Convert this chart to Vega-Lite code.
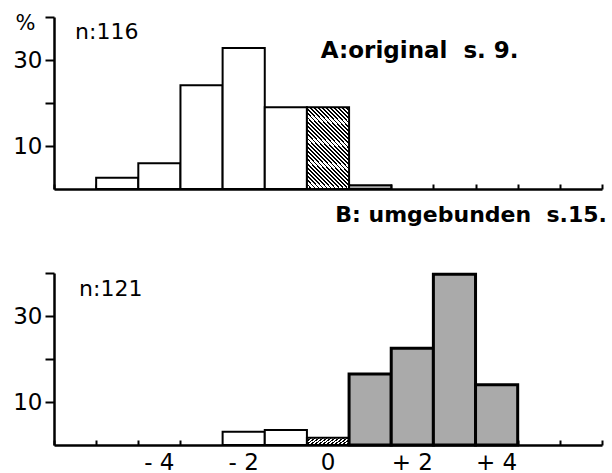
{
  "$schema": "https://vega.github.io/schema/vega-lite/v6.json",
  "padding": {"left": 12, "top": 12, "right": 0, "bottom": 0},
  "background": "white",
  "bounds": "flush",
  "spacing": 84,
  "config": {
    "view": {"stroke": null},
    "font": "DejaVu Sans",
    "axis": {"domainColor": "black", "domainWidth": 2.5, "tickColor": "black", "tickWidth": 2, "labelColor": "black", "labelFont": "DejaVu Sans", "labelFontSize": 23, "grid": false, "titleColor": "black"}
  },
  "datasets": {
    "bars": [
      {"panel": "A", "k": -5, "pct": 2.6},
      {"panel": "A", "k": -4, "pct": 6.0},
      {"panel": "A", "k": -3, "pct": 24.1},
      {"panel": "A", "k": -2, "pct": 32.8},
      {"panel": "A", "k": -1, "pct": 19.0},
      {"panel": "A", "k": 0, "pct": 19.0},
      {"panel": "A", "k": 1, "pct": 0.9},
      {"panel": "B", "k": -2, "pct": 3.1},
      {"panel": "B", "k": -1, "pct": 3.5},
      {"panel": "B", "k": 0, "pct": 1.7},
      {"panel": "B", "k": 1, "pct": 16.5},
      {"panel": "B", "k": 2, "pct": 22.5},
      {"panel": "B", "k": 3, "pct": 39.7},
      {"panel": "B", "k": 4, "pct": 14.0}
    ]
  },
  "vconcat": [
    {
      "width": 548,
      "height": 172,
      "resolve": {"axis": {"x": "independent"}},
      "layer": [
        {"data": {"name": "bars"}, "transform": [{"filter": "datum.panel==='A' && datum.k<0"}], "mark": {"type": "bar", "fill": "white", "stroke": "black", "strokeWidth": 2},
         "encoding": {
          "x": {"field": "k", "type": "ordinal", "scale": {"domain": [-6, -5, -4, -3, -2, -1, 0, 1, 2, 3, 4, 5, 6], "paddingInner": 0, "paddingOuter": 0}, "axis": {"orient": "top", "offset": -172, "title": null, "labels": false, "tickBand": "extent", "tickSize": 5}},
          "y": {"field": "pct", "type": "quantitative", "scale": {"domain": [0, 40], "nice": false}, "axis": {"title": "%", "values": [10, 20, 30, 40], "tickSize": 9, "labelPadding": 3, "labelExpr": "datum.value==10||datum.value==30?datum.label:''", "titleAngle": 0, "titleX": -29, "titleY": 6, "titleAlign": "center", "titleBaseline": "middle", "titleFontSize": 21, "titleFontWeight": "normal", "titleFont": "DejaVu Sans"}}
         }},
        {"data": {"name": "bars"}, "transform": [{"filter": "datum.panel==='A' && datum.k==0"}], "mark": {"type": "bar", "stroke": "black", "strokeWidth": 2, "fill": {"gradient": "linear", "x1": 0, "y1": 1, "x2": 0.641, "y2": -0.193, "stops": [
          {"offset": 0, "color": "#000"}, {"offset": 0.015, "color": "#000"}, {"offset": 0.015, "color": "#fff"}, {"offset": 0.0333, "color": "#fff"},
          {"offset": 0.0333, "color": "#000"}, {"offset": 0.0483, "color": "#000"}, {"offset": 0.0483, "color": "#fff"}, {"offset": 0.0667, "color": "#fff"},
          {"offset": 0.0667, "color": "#000"}, {"offset": 0.0817, "color": "#000"}, {"offset": 0.0817, "color": "#fff"}, {"offset": 0.1, "color": "#fff"},
          {"offset": 0.1, "color": "#000"}, {"offset": 0.115, "color": "#000"}, {"offset": 0.115, "color": "#fff"}, {"offset": 0.1333, "color": "#fff"},
          {"offset": 0.1333, "color": "#000"}, {"offset": 0.1483, "color": "#000"}, {"offset": 0.1483, "color": "#fff"}, {"offset": 0.1667, "color": "#fff"},
          {"offset": 0.1667, "color": "#000"}, {"offset": 0.1817, "color": "#000"}, {"offset": 0.1817, "color": "#fff"}, {"offset": 0.2, "color": "#fff"},
          {"offset": 0.2, "color": "#000"}, {"offset": 0.215, "color": "#000"}, {"offset": 0.215, "color": "#fff"}, {"offset": 0.2333, "color": "#fff"},
          {"offset": 0.2333, "color": "#000"}, {"offset": 0.2483, "color": "#000"}, {"offset": 0.2483, "color": "#fff"}, {"offset": 0.2667, "color": "#fff"},
          {"offset": 0.2667, "color": "#000"}, {"offset": 0.2817, "color": "#000"}, {"offset": 0.2817, "color": "#fff"}, {"offset": 0.3, "color": "#fff"},
          {"offset": 0.3, "color": "#000"}, {"offset": 0.315, "color": "#000"}, {"offset": 0.315, "color": "#fff"}, {"offset": 0.3333, "color": "#fff"},
          {"offset": 0.3333, "color": "#000"}, {"offset": 0.3483, "color": "#000"}, {"offset": 0.3483, "color": "#fff"}, {"offset": 0.3667, "color": "#fff"},
          {"offset": 0.3667, "color": "#000"}, {"offset": 0.3817, "color": "#000"}, {"offset": 0.3817, "color": "#fff"}, {"offset": 0.4, "color": "#fff"},
          {"offset": 0.4, "color": "#000"}, {"offset": 0.415, "color": "#000"}, {"offset": 0.415, "color": "#fff"}, {"offset": 0.4333, "color": "#fff"},
          {"offset": 0.4333, "color": "#000"}, {"offset": 0.4483, "color": "#000"}, {"offset": 0.4483, "color": "#fff"}, {"offset": 0.4667, "color": "#fff"},
          {"offset": 0.4667, "color": "#000"}, {"offset": 0.4817, "color": "#000"}, {"offset": 0.4817, "color": "#fff"}, {"offset": 0.5, "color": "#fff"},
          {"offset": 0.5, "color": "#000"}, {"offset": 0.515, "color": "#000"}, {"offset": 0.515, "color": "#fff"}, {"offset": 0.5333, "color": "#fff"},
          {"offset": 0.5333, "color": "#000"}, {"offset": 0.5483, "color": "#000"}, {"offset": 0.5483, "color": "#fff"}, {"offset": 0.5667, "color": "#fff"},
          {"offset": 0.5667, "color": "#000"}, {"offset": 0.5817, "color": "#000"}, {"offset": 0.5817, "color": "#fff"}, {"offset": 0.6, "color": "#fff"},
          {"offset": 0.6, "color": "#000"}, {"offset": 0.615, "color": "#000"}, {"offset": 0.615, "color": "#fff"}, {"offset": 0.6333, "color": "#fff"},
          {"offset": 0.6333, "color": "#000"}, {"offset": 0.6483, "color": "#000"}, {"offset": 0.6483, "color": "#fff"}, {"offset": 0.6667, "color": "#fff"},
          {"offset": 0.6667, "color": "#000"}, {"offset": 0.6817, "color": "#000"}, {"offset": 0.6817, "color": "#fff"}, {"offset": 0.7, "color": "#fff"},
          {"offset": 0.7, "color": "#000"}, {"offset": 0.715, "color": "#000"}, {"offset": 0.715, "color": "#fff"}, {"offset": 0.7333, "color": "#fff"},
          {"offset": 0.7333, "color": "#000"}, {"offset": 0.7483, "color": "#000"}, {"offset": 0.7483, "color": "#fff"}, {"offset": 0.7667, "color": "#fff"},
          {"offset": 0.7667, "color": "#000"}, {"offset": 0.7817, "color": "#000"}, {"offset": 0.7817, "color": "#fff"}, {"offset": 0.8, "color": "#fff"},
          {"offset": 0.8, "color": "#000"}, {"offset": 0.815, "color": "#000"}, {"offset": 0.815, "color": "#fff"}, {"offset": 0.8333, "color": "#fff"},
          {"offset": 0.8333, "color": "#000"}, {"offset": 0.8483, "color": "#000"}, {"offset": 0.8483, "color": "#fff"}, {"offset": 0.8667, "color": "#fff"},
          {"offset": 0.8667, "color": "#000"}, {"offset": 0.8817, "color": "#000"}, {"offset": 0.8817, "color": "#fff"}, {"offset": 0.9, "color": "#fff"},
          {"offset": 0.9, "color": "#000"}, {"offset": 0.915, "color": "#000"}, {"offset": 0.915, "color": "#fff"}, {"offset": 0.9333, "color": "#fff"},
          {"offset": 0.9333, "color": "#000"}, {"offset": 0.9483, "color": "#000"}, {"offset": 0.9483, "color": "#fff"}, {"offset": 0.9667, "color": "#fff"},
          {"offset": 0.9667, "color": "#000"}, {"offset": 0.9817, "color": "#000"}, {"offset": 0.9817, "color": "#fff"}, {"offset": 1, "color": "#fff"}
        ]}},
         "encoding": {"x": {"field": "k", "type": "ordinal", "axis": null}, "y": {"field": "pct", "type": "quantitative"}}},
        {"data": {"name": "bars"}, "transform": [{"filter": "datum.panel==='A' && datum.k>0"}], "mark": {"type": "bar", "fill": "#aaaaaa", "stroke": "black", "strokeWidth": 2},
         "encoding": {"x": {"field": "k", "type": "ordinal", "axis": null}, "y": {"field": "pct", "type": "quantitative"}}},
        {"data": {"values": [{"label": "n:116"}]}, "mark": {"type": "text", "align": "left", "baseline": "middle", "font": "DejaVu Sans", "fontSize": 22, "fill": "black"},
         "encoding": {"x": {"datum": -6, "type": "ordinal", "axis": null}, "y": {"datum": 36.5, "type": "quantitative"}, "text": {"field": "label", "type": "nominal"}}},
        {"data": {"values": [{"label": "A:original\u00a0 s. 9."}]}, "mark": {"type": "text", "align": "right", "baseline": "middle", "font": "DejaVu Sans", "fontWeight": "bold", "fontSize": 23, "fill": "black", "dx": 22},
         "encoding": {"x": {"datum": 4, "type": "ordinal", "axis": null}, "y": {"datum": 32.1, "type": "quantitative"}, "text": {"field": "label", "type": "nominal"}}}
      ]
    },
    {
      "width": 548,
      "height": 172,
      "resolve": {"axis": {"x": "independent"}},
      "layer": [
        {"data": {"name": "bars"}, "transform": [{"filter": "datum.panel==='B' && datum.k<0"}], "mark": {"type": "bar", "fill": "white", "stroke": "black", "strokeWidth": 2},
         "encoding": {
          "x": {"field": "k", "type": "ordinal", "scale": {"domain": [-6, -5, -4, -3, -2, -1, 0, 1, 2, 3, 4, 5, 6], "paddingInner": 0, "paddingOuter": 0}, "axis": {"orient": "bottom", "title": null, "ticks": false, "tickSize": 0, "domain": false, "labelAngle": 0, "labelPadding": 6, "labelExpr": "datum.value==-4?'- 4':datum.value==-2?'- 2':datum.value==0?'0':datum.value==2?'+ 2':datum.value==4?'+ 4':''"}},
          "y": {"field": "pct", "type": "quantitative", "scale": {"domain": [0, 40], "nice": false}, "axis": {"title": null, "values": [10, 20, 30, 40], "tickSize": 9, "labelPadding": 3, "labelExpr": "datum.value==10||datum.value==30?datum.label:''"}}
         }},
        {"data": {"name": "bars"}, "transform": [{"filter": "datum.panel==='B' && datum.k==0"}], "mark": {"type": "bar", "stroke": "black", "strokeWidth": 2, "fill": {"gradient": "linear", "x1": 0, "y1": 1, "x2": 0.641, "y2": -0.193, "stops": [
          {"offset": 0, "color": "#000"}, {"offset": 0.015, "color": "#000"}, {"offset": 0.015, "color": "#fff"}, {"offset": 0.0333, "color": "#fff"},
          {"offset": 0.0333, "color": "#000"}, {"offset": 0.0483, "color": "#000"}, {"offset": 0.0483, "color": "#fff"}, {"offset": 0.0667, "color": "#fff"},
          {"offset": 0.0667, "color": "#000"}, {"offset": 0.0817, "color": "#000"}, {"offset": 0.0817, "color": "#fff"}, {"offset": 0.1, "color": "#fff"},
          {"offset": 0.1, "color": "#000"}, {"offset": 0.115, "color": "#000"}, {"offset": 0.115, "color": "#fff"}, {"offset": 0.1333, "color": "#fff"},
          {"offset": 0.1333, "color": "#000"}, {"offset": 0.1483, "color": "#000"}, {"offset": 0.1483, "color": "#fff"}, {"offset": 0.1667, "color": "#fff"},
          {"offset": 0.1667, "color": "#000"}, {"offset": 0.1817, "color": "#000"}, {"offset": 0.1817, "color": "#fff"}, {"offset": 0.2, "color": "#fff"},
          {"offset": 0.2, "color": "#000"}, {"offset": 0.215, "color": "#000"}, {"offset": 0.215, "color": "#fff"}, {"offset": 0.2333, "color": "#fff"},
          {"offset": 0.2333, "color": "#000"}, {"offset": 0.2483, "color": "#000"}, {"offset": 0.2483, "color": "#fff"}, {"offset": 0.2667, "color": "#fff"},
          {"offset": 0.2667, "color": "#000"}, {"offset": 0.2817, "color": "#000"}, {"offset": 0.2817, "color": "#fff"}, {"offset": 0.3, "color": "#fff"},
          {"offset": 0.3, "color": "#000"}, {"offset": 0.315, "color": "#000"}, {"offset": 0.315, "color": "#fff"}, {"offset": 0.3333, "color": "#fff"},
          {"offset": 0.3333, "color": "#000"}, {"offset": 0.3483, "color": "#000"}, {"offset": 0.3483, "color": "#fff"}, {"offset": 0.3667, "color": "#fff"},
          {"offset": 0.3667, "color": "#000"}, {"offset": 0.3817, "color": "#000"}, {"offset": 0.3817, "color": "#fff"}, {"offset": 0.4, "color": "#fff"},
          {"offset": 0.4, "color": "#000"}, {"offset": 0.415, "color": "#000"}, {"offset": 0.415, "color": "#fff"}, {"offset": 0.4333, "color": "#fff"},
          {"offset": 0.4333, "color": "#000"}, {"offset": 0.4483, "color": "#000"}, {"offset": 0.4483, "color": "#fff"}, {"offset": 0.4667, "color": "#fff"},
          {"offset": 0.4667, "color": "#000"}, {"offset": 0.4817, "color": "#000"}, {"offset": 0.4817, "color": "#fff"}, {"offset": 0.5, "color": "#fff"},
          {"offset": 0.5, "color": "#000"}, {"offset": 0.515, "color": "#000"}, {"offset": 0.515, "color": "#fff"}, {"offset": 0.5333, "color": "#fff"},
          {"offset": 0.5333, "color": "#000"}, {"offset": 0.5483, "color": "#000"}, {"offset": 0.5483, "color": "#fff"}, {"offset": 0.5667, "color": "#fff"},
          {"offset": 0.5667, "color": "#000"}, {"offset": 0.5817, "color": "#000"}, {"offset": 0.5817, "color": "#fff"}, {"offset": 0.6, "color": "#fff"},
          {"offset": 0.6, "color": "#000"}, {"offset": 0.615, "color": "#000"}, {"offset": 0.615, "color": "#fff"}, {"offset": 0.6333, "color": "#fff"},
          {"offset": 0.6333, "color": "#000"}, {"offset": 0.6483, "color": "#000"}, {"offset": 0.6483, "color": "#fff"}, {"offset": 0.6667, "color": "#fff"},
          {"offset": 0.6667, "color": "#000"}, {"offset": 0.6817, "color": "#000"}, {"offset": 0.6817, "color": "#fff"}, {"offset": 0.7, "color": "#fff"},
          {"offset": 0.7, "color": "#000"}, {"offset": 0.715, "color": "#000"}, {"offset": 0.715, "color": "#fff"}, {"offset": 0.7333, "color": "#fff"},
          {"offset": 0.7333, "color": "#000"}, {"offset": 0.7483, "color": "#000"}, {"offset": 0.7483, "color": "#fff"}, {"offset": 0.7667, "color": "#fff"},
          {"offset": 0.7667, "color": "#000"}, {"offset": 0.7817, "color": "#000"}, {"offset": 0.7817, "color": "#fff"}, {"offset": 0.8, "color": "#fff"},
          {"offset": 0.8, "color": "#000"}, {"offset": 0.815, "color": "#000"}, {"offset": 0.815, "color": "#fff"}, {"offset": 0.8333, "color": "#fff"},
          {"offset": 0.8333, "color": "#000"}, {"offset": 0.8483, "color": "#000"}, {"offset": 0.8483, "color": "#fff"}, {"offset": 0.8667, "color": "#fff"},
          {"offset": 0.8667, "color": "#000"}, {"offset": 0.8817, "color": "#000"}, {"offset": 0.8817, "color": "#fff"}, {"offset": 0.9, "color": "#fff"},
          {"offset": 0.9, "color": "#000"}, {"offset": 0.915, "color": "#000"}, {"offset": 0.915, "color": "#fff"}, {"offset": 0.9333, "color": "#fff"},
          {"offset": 0.9333, "color": "#000"}, {"offset": 0.9483, "color": "#000"}, {"offset": 0.9483, "color": "#fff"}, {"offset": 0.9667, "color": "#fff"},
          {"offset": 0.9667, "color": "#000"}, {"offset": 0.9817, "color": "#000"}, {"offset": 0.9817, "color": "#fff"}, {"offset": 1, "color": "#fff"}
        ]}},
         "encoding": {"x": {"field": "k", "type": "ordinal", "axis": {"orient": "top", "offset": -172, "title": null, "labels": false, "tickBand": "extent", "tickSize": 5}}, "y": {"field": "pct", "type": "quantitative"}}},
        {"data": {"name": "bars"}, "transform": [{"filter": "datum.panel==='B' && datum.k>0"}], "mark": {"type": "bar", "fill": "#aaaaaa", "stroke": "black", "strokeWidth": 3},
         "encoding": {"x": {"field": "k", "type": "ordinal", "axis": null}, "y": {"field": "pct", "type": "quantitative"}}},
        {"data": {"values": [{"label": "n:121"}]}, "mark": {"type": "text", "align": "left", "baseline": "middle", "font": "DejaVu Sans", "fontSize": 22, "fill": "black", "dx": 4},
         "encoding": {"x": {"datum": -6, "type": "ordinal", "axis": null}, "y": {"datum": 36.2, "type": "quantitative"}, "text": {"field": "label", "type": "nominal"}}},
        {"data": {"values": [{"label": "B: umgebunden\u00a0 s.15."}]}, "mark": {"type": "text", "align": "right", "baseline": "middle", "font": "DejaVu Sans", "fontWeight": "bold", "fontSize": 22, "fill": "black", "dx": 26},
         "encoding": {"x": {"datum": 6, "type": "ordinal", "axis": null}, "y": {"datum": 53.6, "type": "quantitative"}, "text": {"field": "label", "type": "nominal"}}}
      ]
    }
  ]
}
